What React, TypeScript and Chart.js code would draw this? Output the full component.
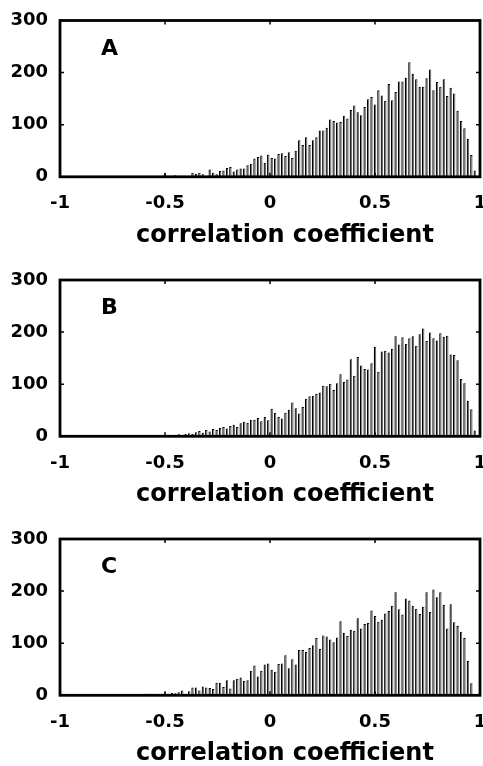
import React, { useEffect, useRef } from "react";
import { Chart, registerables } from "chart.js";

Chart.register(...registerables);

// ---- data -------------------------------------------------------------
const BIN_COUNT = 122; // histogram bins spanning [-1, 1]
const BIN_MIN = -1;
const BIN_MAX = 1;
const X_TICKS = [-1, -0.5, 0, 0.5, 1];
const Y_TICKS = [0, 100, 200, 300];
const PANEL_LABELS = ["A", "B", "C"];
const AXIS_TITLE = "correlation coefficient";

// counts, starting at bin index FIRST_BIN_*
const FIRST_BIN_A = 28;
const COUNTS_A = [
  0, 0, 6, 0, 0, 3, 0, 0, 0, 0, 8, 6, 8, 5, 1, 14, 8, 5, 11, 12, 17, 19, 10, 14, 16, 16, 22,
  25, 35, 38, 41, 27, 43, 36, 35, 44, 45, 40, 47, 36, 50, 70, 61, 76, 61, 70, 76,
  89, 89, 94, 110, 107, 104, 105, 117, 112, 128, 137, 124, 118, 134, 149, 153, 139, 166, 156, 146,
  178, 147, 163, 183, 183, 190, 220, 198, 187, 173, 173, 189, 206, 166, 182, 173, 187, 155, 171, 160,
  127, 107, 93, 73, 42, 12, 0,
];

const FIRST_BIN_B = 28;
const COUNTS_B = [
  1, 2, 2, 3, 2, 3, 4, 3, 5, 6, 5, 8, 10, 7, 12, 9, 14, 12, 16, 18, 15, 20, 22, 18, 25, 28, 26,
  32, 32, 35, 29, 37, 31, 53, 45, 37, 34, 45, 51, 65, 54, 44, 56, 72, 77, 78, 81,
  84, 97, 96, 101, 89, 102, 119, 104, 109, 148, 116, 152, 136, 129, 128, 140, 172, 124, 163, 164,
  161, 168, 192, 176, 190, 177, 188, 192, 174, 196, 207, 183, 199, 188, 184, 198, 191, 193, 157, 156,
  146, 110, 102, 68, 52, 11, 0,
];

const FIRST_BIN_C = 25;
const COUNTS_C = [
  3, 3, 3, 2, 3, 4, 3, 5, 4, 6, 9, 3, 8, 15, 15, 9, 17, 15, 14, 12, 24, 24, 16, 29, 13, 29, 32, 34, 28, 29,
  47, 57, 36, 47, 59, 61, 49, 45, 60, 61, 77, 52, 69, 59, 87, 87, 83, 91, 96, 110,
  89, 115, 113, 107, 102, 111, 142, 120, 114, 126, 124, 148, 128, 137, 139, 163, 152, 141, 145, 157,
  162, 172, 198, 165, 155, 186, 182, 172, 166, 156,
  170, 198, 160, 203, 188, 198, 174, 128, 175, 140, 133, 122, 110, 66, 23, 0, 0,
];

// ---- layout -------------------------------------------------------------
const W = 483;
const CANVAS_H = 259;
const PLOT_H = 156.3;
const PANEL_TOPS = [0, 259, 518];
const TOP_PADS = [20.5, 21, 21];
const FONT = '"DejaVu Sans", "Liberation Sans", Arial, sans-serif';

const framePlugin = {
  id: "frame",
  afterDatasetsDraw(chart: any, _args: any, opts: any) {
    const { ctx, chartArea: a, scales } = chart;
    const xs = scales.x;
    const ys = scales.y;
    ctx.save();
    ctx.strokeStyle = "#000";
    ctx.lineWidth = 1.5;
    ctx.beginPath();
    for (const v of X_TICKS) {
      const px = xs.getPixelForValue(v);
      ctx.moveTo(px, a.bottom);
      ctx.lineTo(px, a.bottom - 4);
      ctx.moveTo(px, a.top);
      ctx.lineTo(px, a.top + 4);
    }
    for (const v of Y_TICKS) {
      const py = ys.getPixelForValue(v);
      ctx.moveTo(a.left, py);
      ctx.lineTo(a.left + 4, py);
      ctx.moveTo(a.right, py);
      ctx.lineTo(a.right - 4, py);
    }
    ctx.stroke();
    ctx.lineWidth = 2.8;
    ctx.strokeRect(a.left, a.top, a.right - a.left, a.bottom - a.top);

    ctx.fillStyle = "#000";
    ctx.font = `bold 22px ${FONT}`;
    ctx.textAlign = "left";
    ctx.textBaseline = "alphabetic";
    ctx.fillText(opts.letter, a.left + 41, a.top + 34);

    ctx.font = `bold 24px ${FONT}`;
    ctx.textAlign = "center";
    ctx.fillText(AXIS_TITLE, 285, a.bottom + 65);
    ctx.restore();
  },
};

function makeConfig(letter: string, firstBin: number, counts: number[], topPad: number) {
  const w = (BIN_MAX - BIN_MIN) / BIN_COUNT;
  const points = counts.map((c, i) => ({ x: BIN_MIN + (firstBin + i + 0.5) * w, y: c }));
  const xHeight = CANVAS_H - topPad - PLOT_H;
  return {
    type: "bar" as const,
    data: {
      datasets: [
        {
          data: points,
          backgroundColor: "#707070",
          borderColor: "#000",
          borderWidth: { left: 1.3, top: 1, right: 0, bottom: 0 },
          barPercentage: 1,
          categoryPercentage: 0.72,
        },
      ],
    },
    options: {
      animation: false,
      responsive: false,
      maintainAspectRatio: false,
      events: [],
      layout: { padding: { top: topPad, right: 3, left: 0, bottom: 0 } },
      plugins: {
        legend: { display: false },
        tooltip: { enabled: false },
        frame: { letter },
      },
      scales: {
        x: {
          type: "linear",
          min: BIN_MIN,
          max: BIN_MAX,
          offset: false,
          grid: { display: false, drawTicks: false },
          border: { display: false },
          ticks: {
            autoSkip: false,
            maxRotation: 0,
            padding: 16,
            color: "#000",
            font: { family: FONT, size: 18, weight: "bold" },
            callback: (v: any) => String(v),
          },
          afterBuildTicks: (s: any) => {
            s.ticks = X_TICKS.map((v) => ({ value: v }));
          },
          afterFit: (s: any) => {
            s.height = xHeight;
            s.paddingLeft = 0;
            s.paddingRight = 0;
          },
        },
        y: {
          type: "linear",
          min: 0,
          max: 300,
          grid: { display: false, drawTicks: false },
          border: { display: false },
          ticks: {
            padding: 12,
            color: "#000",
            font: { family: FONT, size: 18, weight: "bold" },
            callback: (v: any) => String(v),
          },
          afterBuildTicks: (s: any) => {
            s.ticks = Y_TICKS.map((v) => ({ value: v }));
          },
          afterFit: (s: any) => {
            s.width = 60;
            s.paddingTop = 0;
            s.paddingBottom = 0;
          },
        },
      },
    },
    plugins: [framePlugin],
  };
}

function Panel({ index, firstBin, counts }: { index: number; firstBin: number; counts: number[] }) {
  const ref = useRef<HTMLCanvasElement | null>(null);
  useEffect(() => {
    if (!ref.current) return;
    const chart = new Chart(
      ref.current,
      makeConfig(PANEL_LABELS[index], firstBin, counts, TOP_PADS[index]) as any
    );
    return () => chart.destroy();
  }, [index, firstBin, counts]);
  return (
    <canvas
      ref={ref}
      width={W}
      height={CANVAS_H}
      style={{ position: "absolute", left: 0, top: PANEL_TOPS[index], width: W, height: CANVAS_H }}
    />
  );
}

export default function App() {
  return (
    <div
      style={{
        position: "fixed",
        left: 0,
        top: 0,
        width: W,
        height: 766,
        overflow: "hidden",
        background: "#fff",
      }}
    >
      <Panel index={0} firstBin={FIRST_BIN_A} counts={COUNTS_A} />
      <Panel index={1} firstBin={FIRST_BIN_B} counts={COUNTS_B} />
      <Panel index={2} firstBin={FIRST_BIN_C} counts={COUNTS_C} />
    </div>
  );
}
